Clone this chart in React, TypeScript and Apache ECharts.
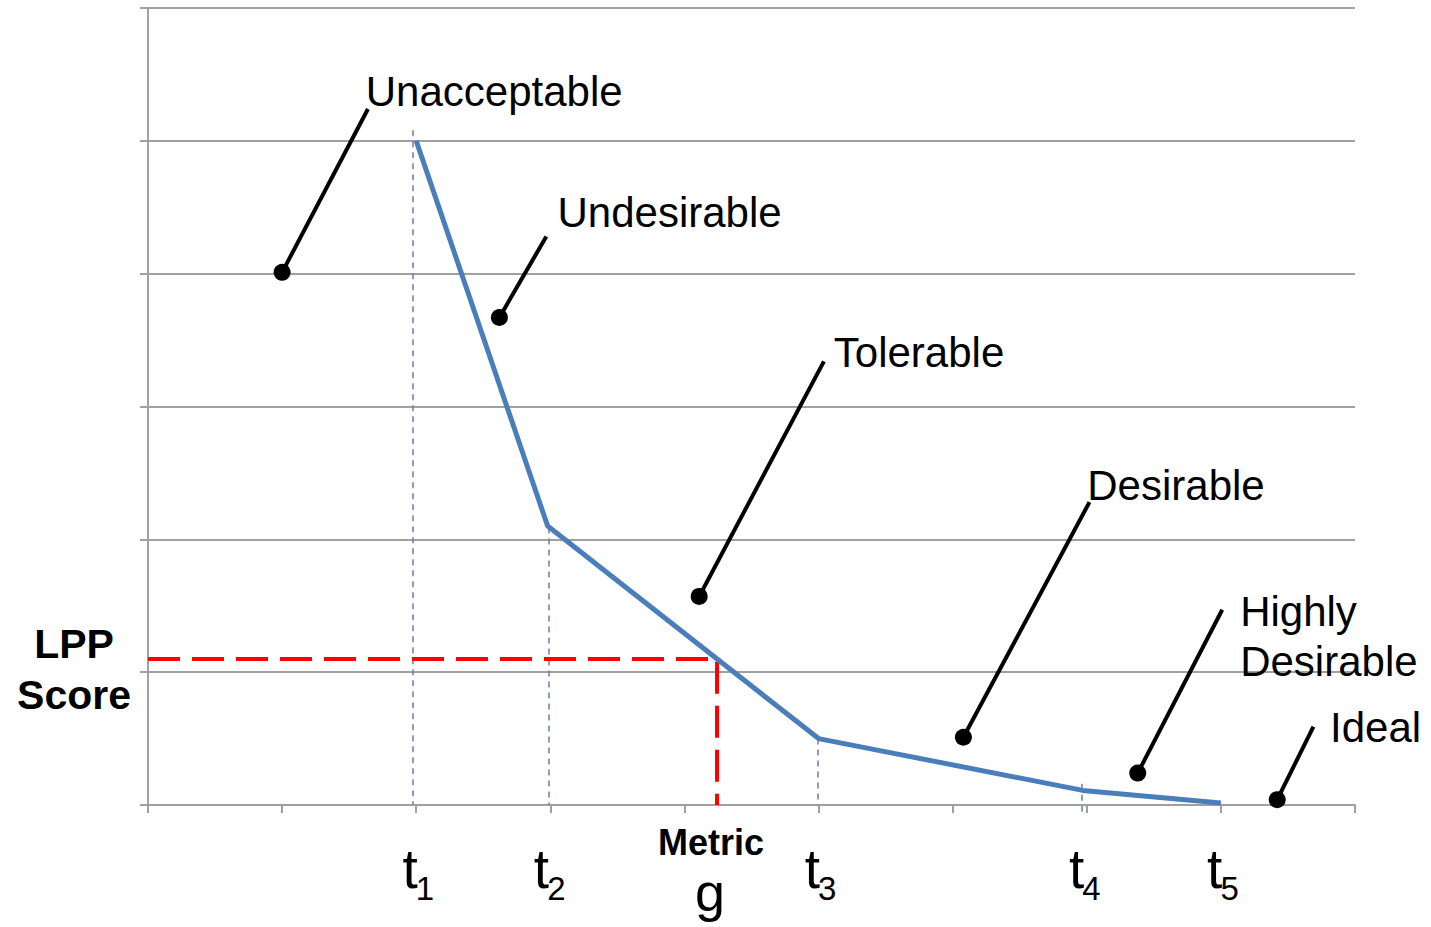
import React, { useEffect, useRef } from 'react';
import * as echarts from 'echarts';

// ---- data (in axis units) ----
const X_MAX = 9;
const Y_MAX = 6;

// thresholds t1..t5 and the LPP score curve through them
const thresholdSubs = ['1', '2', '3', '4', '5'];
const thresholdX = [2, 2.98, 5, 6.97, 8];
const scoreY = [5, 2.1, 0.5, 0.11, 0.015];

// dashed drop lines from the curve to the axis
const dropX = [1.977, 2.985, 4.995, 6.965];
const dropTopY = [5.08, 2.09, 0.5, 0.16];
const dropBottomY = [0, 0, 0, -0.08];

// metric g and its LPP score
const metricG = 4.243;
const lppScore = 1.1;

// zone annotations
const zoneNames = ['Unacceptable', 'Undesirable', 'Tolerable', 'Desirable', 'Highly\nDesirable', 'Ideal'];
const zoneDotX = [1.0, 2.62, 4.11, 6.08, 7.38, 8.42];
const zoneDotY = [4.01, 3.67, 1.57, 0.51, 0.24, 0.04];
const zoneLeaderX = [1.64, 2.97, 5.04, 7.02, 8.01, 8.69];
const zoneLeaderY = [5.24, 4.28, 3.34, 2.28, 1.47, 0.59];
const zoneLabelX = [1.62, 3.05, 5.11, 7.0, 8.14, 8.81];
const zoneLabelY = [5.375, 4.464, 3.41, 2.409, 1.265, 0.58];

const FONT = "'Liberation Sans', Arial, sans-serif";
const GRID_COLOR = '#a0a0a0';

export default function App() {
  const ref = useRef<HTMLDivElement>(null);

  useEffect(() => {
    const chart = echarts.init(ref.current!, null, { renderer: 'svg' });

    const curve = thresholdX.map((x, i) => [x, scoreY[i]]);
    const drops = dropX.map((x, i) => ({ coords: [[x, dropTopY[i]], [x, dropBottomY[i]]] }));
    const leaders = zoneDotX.map((x, i) => ({ coords: [[x, zoneDotY[i]], [zoneLeaderX[i], zoneLeaderY[i]]] }));
    const dots = zoneDotX.map((x, i) => [x, zoneDotY[i]]);
    const zoneLabels = zoneLabelX.map((x, i) => ({ value: [x, zoneLabelY[i]], name: zoneNames[i] }));
    const tPoints = thresholdX.map((x, i) => ({ value: [x, 0], name: thresholdSubs[i] }));

    const labelBase = {
      show: true,
      color: '#000000',
      opacity: 1,
      textBorderWidth: 0,
      textBorderColor: 'transparent',
      fontFamily: FONT,
    };
    const hiddenItem = { color: 'rgba(0,0,0,0)', opacity: 1 };

    const option: any = {
      animation: false,
      backgroundColor: '#ffffff',
      textStyle: { fontFamily: FONT },
      grid: { left: 148, right: 76, top: 8, bottom: 122, containLabel: false },
      xAxis: {
        type: 'value',
        min: 0,
        max: X_MAX,
        interval: 1,
        axisLine: { show: true, lineStyle: { color: GRID_COLOR, width: 2 } },
        axisTick: { show: true, length: 8, lineStyle: { color: GRID_COLOR, width: 2 } },
        axisLabel: { show: false },
        splitLine: { show: false },
      },
      yAxis: {
        type: 'value',
        min: 0,
        max: Y_MAX,
        interval: 1,
        axisLine: { show: true, lineStyle: { color: GRID_COLOR, width: 2 } },
        axisTick: { show: true, length: 8, lineStyle: { color: GRID_COLOR, width: 2 } },
        axisLabel: { show: false },
        splitLine: { show: true, lineStyle: { color: GRID_COLOR, width: 2 } },
      },
      series: [
        {
          type: 'lines',
          coordinateSystem: 'cartesian2d',
          clip: false,
          silent: true,
          data: drops,
          lineStyle: { color: '#6e7bb0', width: 1.5, type: [6, 5], opacity: 1, curveness: 0 },
        },
        {
          type: 'line',
          silent: true,
          clip: false,
          symbol: 'none',
          data: [[0, lppScore], [metricG, lppScore], [metricG, 0]],
          lineStyle: { color: '#ff0000', width: 4, type: [32, 12] },
        },
        {
          type: 'line',
          silent: true,
          symbol: 'none',
          data: curve,
          lineStyle: { color: '#4a7ebb', width: 5 },
        },
        {
          type: 'lines',
          coordinateSystem: 'cartesian2d',
          clip: false,
          silent: true,
          data: leaders,
          lineStyle: { color: '#000000', width: 4, opacity: 1, curveness: 0 },
        },
        {
          type: 'scatter',
          silent: true,
          symbol: 'circle',
          symbolSize: 17,
          data: dots,
          itemStyle: { color: '#000000', opacity: 1 },
        },
        {
          type: 'scatter',
          silent: true,
          symbolSize: 1,
          clip: false,
          data: zoneLabels,
          itemStyle: hiddenItem,
          label: {
            ...labelBase,
            position: 'right',
            distance: 0,
            align: 'left',
            verticalAlign: 'middle',
            formatter: (p: any) => p.name,
            fontSize: 42,
            lineHeight: 50,
          },
        },
        {
          type: 'scatter',
          silent: true,
          symbolSize: 1,
          clip: false,
          data: tPoints,
          itemStyle: hiddenItem,
          label: {
            ...labelBase,
            position: 'right',
            distance: 0,
            align: 'right',
            verticalAlign: 'middle',
            offset: [1, 64],
            formatter: () => 't',
            fontSize: 55,
          },
        },
        {
          type: 'scatter',
          silent: true,
          symbolSize: 1,
          clip: false,
          data: tPoints,
          itemStyle: hiddenItem,
          label: {
            ...labelBase,
            position: 'right',
            distance: 0,
            align: 'left',
            verticalAlign: 'middle',
            offset: [-1, 83],
            formatter: (p: any) => p.name,
            fontSize: 33,
          },
        },
      ],
      graphic: [
        {
          type: 'text',
          x: 74,
          y: 669,
          style: {
            text: 'LPP\nScore',
            font: `bold 41px ${FONT}`,
            lineHeight: 51,
            fill: '#000000',
            align: 'center',
            verticalAlign: 'middle',
            textAlign: 'center',
            textVerticalAlign: 'middle',
          },
        },
        {
          type: 'text',
          x: 711,
          y: 842,
          style: {
            text: 'Metric',
            font: `bold 36px ${FONT}`,
            fill: '#000000',
            align: 'center',
            verticalAlign: 'middle',
            textAlign: 'center',
            textVerticalAlign: 'middle',
          },
        },
        {
          type: 'text',
          x: 710,
          y: 892,
          style: {
            text: 'g',
            font: `54px ${FONT}`,
            fill: '#000000',
            align: 'center',
            verticalAlign: 'middle',
            textAlign: 'center',
            textVerticalAlign: 'middle',
          },
        },
      ],
    };

    chart.setOption(option);
    return () => chart.dispose();
  }, []);

  return (
    <div
      ref={ref}
      style={{ position: 'fixed', left: 0, top: 0, width: 1431, height: 927, background: '#ffffff' }}
    />
  );
}
